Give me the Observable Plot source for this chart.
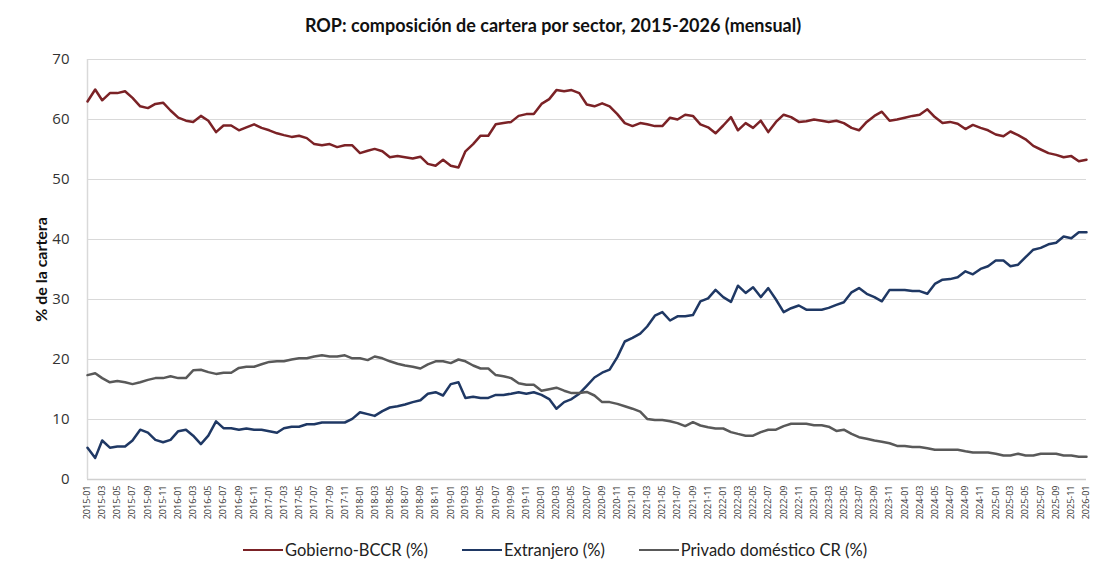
<!DOCTYPE html>
<html>
<head>
<meta charset="utf-8">
<script src="https://cdn.jsdelivr.net/npm/d3@7"></script>
<script src="https://cdn.jsdelivr.net/npm/@observablehq/plot@0.6"></script>
<style>
  html, body { margin: 0; padding: 0; background: #fff; }
  body { width: 1106px; height: 577px; overflow: hidden; font-family: Lato, "Open Sans", sans-serif; }
  #title { height: 45px; line-height: 50px; text-align: center; font-weight: bold; font-size: 18px; color: #111; }
  #chart svg { display: block; }
  #chart [aria-label="y-axis label"] text { font-weight: bold; font-size: 16px; fill: #111; font-family: Lato, sans-serif; }
  #legend { display: flex; justify-content: center; align-items: center; height: 20px; font-size: 16.5px; color: #222; padding-left: 4px; }
  .item { display: flex; align-items: center; margin: 0 17px; }
  .sw { width: 40px; height: 2.5px; margin-right: 2px; }
</style>
</head>
<body>
<div id="title">ROP: composición de cartera por sector, 2015-2026 (mensual)</div>
<div id="chart"></div>
<div id="legend"></div>
<script>
// Series names and colours
const seriesNames = ["Gobierno-BCCR (%)", "Extranjero (%)", "Privado doméstico CR (%)"];
const seriesColors = ["#7b2226", "#1f3864", "#595959"];

// Monthly categories: 2015-01 ... 2026-01 (133 months)
const months = d3.utcMonth.range(new Date(Date.UTC(2015, 0, 1)), new Date(Date.UTC(2026, 1, 1)));

// Y-axis tick values
const yTicks = [0, 10, 20, 30, 40, 50, 60, 70];

// Gobierno-BCCR (%), one value per month
const gobierno = [
  63.0, 65.0, 63.2, 64.4, 64.4, 64.7, 63.6, 62.2, 61.9, 62.6, 62.8, 61.5,
  60.3, 59.8, 59.6, 60.6, 59.8, 57.9, 59.0, 59.0, 58.2, 58.7, 59.2, 58.6,
  58.2, 57.7, 57.4, 57.1, 57.3, 56.9, 55.9, 55.7, 55.9, 55.4, 55.7, 55.7,
  54.4, 54.8, 55.1, 54.7, 53.7, 53.9, 53.7, 53.5, 53.8, 52.6, 52.3, 53.3,
  52.3, 52.0, 54.7, 55.9, 57.3, 57.3, 59.2, 59.4, 59.6, 60.6, 60.9, 60.9,
  62.6, 63.4, 64.9, 64.7, 64.9, 64.4, 62.5, 62.2, 62.7, 62.2, 60.9, 59.4,
  58.9, 59.4, 59.2, 58.9, 58.9, 60.3, 60.0, 60.8, 60.6, 59.2, 58.7, 57.7,
  59.0, 60.4, 58.2, 59.4, 58.6, 59.8, 57.9, 59.6, 60.8, 60.4, 59.6, 59.7,
  60.0, 59.8, 59.6, 59.8, 59.4, 58.6, 58.2, 59.6, 60.6, 61.3, 59.8, 60.0,
  60.3, 60.6, 60.8, 61.7, 60.4, 59.4, 59.6, 59.3, 58.4, 59.1, 58.6, 58.2,
  57.5, 57.2, 58.0, 57.4, 56.7, 55.6, 55.0, 54.4, 54.1, 53.7, 53.9, 53.05,
  53.3
];

// Extranjero (%)
const extranjero = [
  5.3, 3.6, 6.5, 5.3, 5.5, 5.5, 6.5, 8.3, 7.8, 6.6, 6.2, 6.6,
  8.05, 8.3, 7.3, 5.9, 7.3, 9.7, 8.55, 8.55, 8.3, 8.5, 8.3, 8.3,
  8.05, 7.8, 8.55, 8.8, 8.8, 9.2, 9.2, 9.5, 9.5, 9.5, 9.5, 10.1,
  11.2, 10.9, 10.6, 11.4, 12.0, 12.2, 12.5, 12.9, 13.2, 14.3, 14.55, 14.0,
  15.9, 16.2, 13.6, 13.8, 13.6, 13.6, 14.1, 14.1, 14.3, 14.55, 14.3, 14.55,
  14.1, 13.4, 11.8, 12.9, 13.4, 14.3, 15.6, 17.0, 17.8, 18.3, 20.4, 23.0,
  23.6, 24.3, 25.5, 27.3, 27.9, 26.5, 27.2, 27.2, 27.4, 29.7, 30.2, 31.6,
  30.4, 29.6, 32.3, 31.1, 32.05, 30.4, 31.9, 30.0, 27.9, 28.55, 29.0, 28.3,
  28.3, 28.3, 28.6, 29.1, 29.55, 31.2, 31.9, 30.95, 30.4, 29.7, 31.6, 31.6,
  31.6, 31.4, 31.4, 30.95, 32.6, 33.3, 33.4, 33.7, 34.7, 34.2, 35.1, 35.55,
  36.5, 36.5, 35.55, 35.8, 37.05, 38.3, 38.6, 39.2, 39.45, 40.5, 40.2, 41.2,
  41.2
];

// Privado doméstico CR (%)
const privado = [
  17.4, 17.7, 16.9, 16.2, 16.4, 16.2, 15.9, 16.2, 16.6, 16.9, 16.9, 17.2,
  16.9, 16.9, 18.2, 18.3, 17.9, 17.6, 17.8, 17.8, 18.6, 18.8, 18.8, 19.2,
  19.6, 19.7, 19.7, 20.0, 20.2, 20.2, 20.5, 20.7, 20.5, 20.5, 20.7, 20.2,
  20.2, 19.9, 20.5, 20.2, 19.7, 19.3, 19.0, 18.8, 18.5, 19.2, 19.7, 19.7,
  19.4, 20.0, 19.7, 19.0, 18.5, 18.5, 17.4, 17.2, 16.9, 16.05, 15.8, 15.8,
  14.8, 15.05, 15.3, 14.8, 14.4, 14.4, 14.6, 14.0, 12.9, 12.9, 12.6, 12.2,
  11.8, 11.3, 10.1, 9.9, 9.9, 9.7, 9.4, 8.9, 9.55, 9.0, 8.7, 8.5,
  8.5, 7.9, 7.6, 7.3, 7.3, 7.9, 8.3, 8.3, 8.9, 9.3, 9.3, 9.3,
  9.05, 9.05, 8.8, 8.1, 8.3, 7.6, 7.05, 6.8, 6.5, 6.3, 6.05, 5.6,
  5.6, 5.4, 5.4, 5.2, 4.95, 4.95, 4.95, 4.95, 4.7, 4.5, 4.5, 4.5,
  4.3, 4.0, 4.0, 4.3, 4.0, 4.0, 4.3, 4.3, 4.3, 4.0, 4.0, 3.8,
  3.8
];

const seriesValues = [gobierno, extranjero, privado];
const data = seriesNames.flatMap((name, s) =>
  seriesValues[s].map((v, i) => ({ date: months[i], value: v, serie: name }))
);
const xTicks = months.filter((d, i) => i % 2 === 0);
const fmt = d3.utcFormat("%Y-%m");

const chart = Plot.plot({
  width: 1106,
  height: 495,
  marginLeft: 87,
  marginRight: 20,
  marginTop: 14,
  marginBottom: 61,
  style: { fontFamily: "'Open Sans', Lato, sans-serif", color: "#333", background: "#fff" },
  x: { type: "utc", domain: [months[0], months[months.length - 1]] },
  y: { domain: [0, 70] },
  color: { domain: seriesNames, range: seriesColors },
  marks: [
    Plot.ruleY(yTicks.filter(d => d > 0), { stroke: "#d9d9d9", strokeWidth: 1.2 }),
    Plot.ruleY([0], { stroke: "#d0d0d0", strokeWidth: 1.5 }),
    Plot.ruleX([months[0]], { stroke: "#d9d9d9", strokeWidth: 1.5 }),
    Plot.axisY({ ticks: yTicks, tickSize: 0, tickPadding: 18, fontSize: 15,
      label: "% de la cartera", labelAnchor: "center", labelArrow: "none", labelOffset: 52 }),
    Plot.axisX({ ticks: xTicks, tickFormat: fmt, tickRotate: -90, tickSize: 0, tickPadding: 6,
      fontSize: 9, label: null }),
    Plot.line(data, { x: "date", y: "value", z: "serie", stroke: "serie", strokeWidth: 2.5,
      strokeLinejoin: "round", strokeLinecap: "round" })
  ]
});
document.getElementById("chart").appendChild(chart);

const legend = document.getElementById("legend");
seriesNames.forEach((name, i) => {
  const item = document.createElement("div");
  item.className = "item";
  const sw = document.createElement("div");
  sw.className = "sw";
  sw.style.background = seriesColors[i];
  const label = document.createElement("span");
  label.textContent = name;
  item.appendChild(sw);
  item.appendChild(label);
  legend.appendChild(item);
});
</script>
</body>
</html>
